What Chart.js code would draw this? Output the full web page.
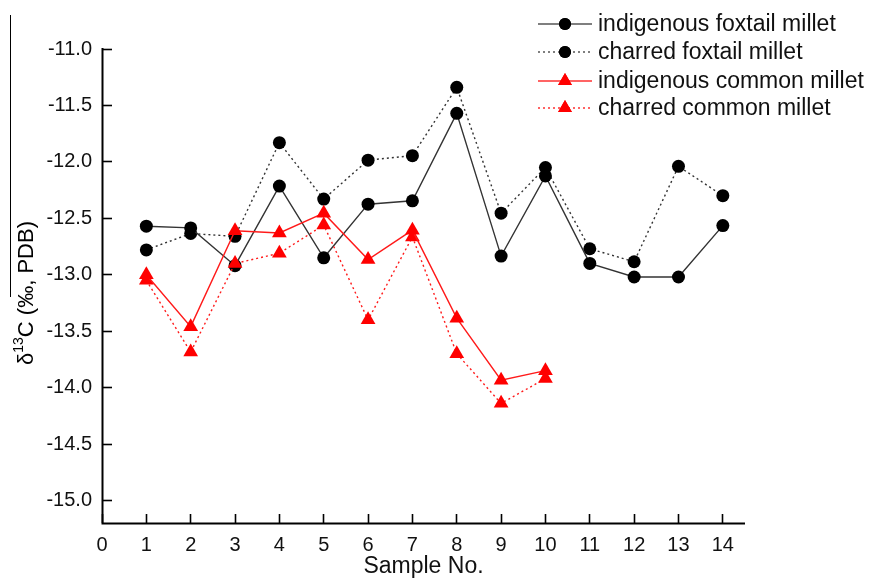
<!DOCTYPE html>
<html>
<head>
<meta charset="utf-8">
<script src="https://cdn.jsdelivr.net/npm/chart.js@4.4.1/dist/chart.umd.min.js"></script>
<style>
  html, body { margin: 0; padding: 0; background: #fff; }
  #chart { display: block; }
</style>
</head>
<body>
<canvas id="chart" width="876" height="581"></canvas>
<script>
// Sample numbers along the x axis
const samples = [1, 2, 3, 4, 5, 6, 7, 8, 9, 10, 11, 12, 13, 14];

// δ13C values (‰, PDB)
const indigenousFoxtail = [-12.57, -12.585, -12.92, -12.215, -12.85, -12.375, -12.345, -11.57, -12.835, -12.125, -12.90, -13.02, -13.02, -12.565];
const charredFoxtail = [-12.78, -12.635, -12.66, -11.83, -12.33, -11.985, -11.945, -11.34, -12.455, -12.05, -12.77, -12.885, -12.04, -12.30];
const indigenousCommon = [-13.0, -13.46, -12.61, -12.63, -12.455, -12.865, -12.605, -13.385, -13.935, -13.85];
const charredCommon = [-13.05, -13.685, -12.90, -12.81, -12.56, -13.40, -12.665, -13.70, -14.14, -13.92];

// Tick labels
const xTickValues = [0, 1, 2, 3, 4, 5, 6, 7, 8, 9, 10, 11, 12, 13, 14];
const yTickValues = [-15.0, -14.5, -14.0, -13.5, -13.0, -12.5, -12.0, -11.5, -11.0];

const seriesNames = ['indigenous foxtail millet', 'charred foxtail millet', 'indigenous common millet', 'charred common millet'];

const FONT = 'Liberation Sans, Arial, sans-serif';

// pair each value with its sample number
function toPoints(values) {
    return values.map((v, i) => ({ x: samples[i], y: v }));
}

const seriesStyles = [
    { line: '#333', point: '#000', shape: 'circle', radius: 6.5, dash: [] },
    { line: '#333', point: '#000', shape: 'circle', radius: 6.5, dash: [2, 3] },
    { line: '#ff1a1a', point: '#ff0000', shape: 'triangle', radius: 8.5, dash: [] },
    { line: '#ff1a1a', point: '#ff0000', shape: 'triangle', radius: 8.5, dash: [2, 3] }
];

const seriesValues = [indigenousFoxtail, charredFoxtail, indigenousCommon, charredCommon];

const datasets = seriesValues.map((vals, i) => ({
    label: seriesNames[i],
    data: toPoints(vals),
    borderColor: seriesStyles[i].line,
    borderWidth: 1.4,
    borderDash: seriesStyles[i].dash,
    pointStyle: seriesStyles[i].shape,
    pointRadius: seriesStyles[i].radius,
    pointBackgroundColor: seriesStyles[i].point,
    pointBorderColor: seriesStyles[i].point,
    pointBorderWidth: 0,
    tension: 0,
    order: i < 2 ? 2 : 1   // red series drawn on top
}));

// Draws the axis lines, the rotated y title (with superscript) and the legend
const decorPlugin = {
    id: 'decor',
    afterDraw(chart) {
        const ctx = chart.ctx;
        const yScale = chart.scales.y;
        const xScale = chart.scales.x;
        ctx.save();

        // axis lines
        const ax = Math.round(yScale.right) + 0.5;
        const ay = Math.round(xScale.top) + 0.5;
        ctx.strokeStyle = '#000';
        ctx.lineWidth = 2;
        ctx.beginPath();
        ctx.moveTo(ax, yScale.top - 1);
        ctx.lineTo(ax, ay);
        ctx.lineTo(xScale.right, ay);
        ctx.stroke();

        // --- y axis title ---
        const big = '22px ' + FONT;
        const small = '14px ' + FONT;
        const parts = [
            { t: 'δ', f: big, dy: 0 },
            { t: '13', f: small, dy: -8 },
            { t: 'C (‰, PDB)', f: big, dy: 0 }
        ];
        let total = 0;
        parts.forEach(p => { ctx.font = p.f; p.w = ctx.measureText(p.t).width; total += p.w; });
        ctx.translate(27, 293);
        ctx.rotate(-Math.PI / 2);
        ctx.fillStyle = '#000';
        ctx.textBaseline = 'middle';
        ctx.textAlign = 'left';
        let px = -total / 2;
        parts.forEach(p => {
            ctx.font = p.f;
            ctx.fillText(p.t, px, p.dy);
            px += p.w;
        });
        ctx.setTransform(1, 0, 0, 1, 0, 0);

        // stray overline next to the title, as in the source figure
        ctx.strokeStyle = '#000';
        ctx.lineWidth = 1;
        ctx.beginPath();
        ctx.moveTo(10.5, 15);
        ctx.lineTo(10.5, 297);
        ctx.stroke();

        // --- legend ---
        const lx0 = 538, lx1 = 592, mx = 565, tx = 598;
        const rowY = [24, 52, 81, 108];
        ctx.font = '23px ' + FONT;
        ctx.textBaseline = 'middle';
        seriesNames.forEach((name, i) => {
            const st = seriesStyles[i];
            const y = rowY[i];
            ctx.strokeStyle = i < 2 ? '#555' : '#ff3030';
            ctx.lineWidth = 1.4;
            ctx.setLineDash(st.dash);
            ctx.beginPath();
            ctx.moveTo(lx0, y);
            ctx.lineTo(lx1, y);
            ctx.stroke();
            ctx.setLineDash([]);
            ctx.fillStyle = st.point;
            Chart.helpers.drawPoint(ctx, { pointStyle: st.shape, radius: st.radius - 0.5, borderWidth: 0 }, mx, y);
            ctx.fill();
            ctx.fillStyle = '#111';
            ctx.fillText(name, tx, y + 1);
        });
        ctx.restore();
    }
};

const chart = new Chart(document.getElementById('chart'), {
    type: 'line',
    data: { datasets: datasets },
    options: {
        responsive: false,
        animation: false,
        layout: { padding: { left: 0, top: 49, right: 131, bottom: 0 } },
        plugins: {
            legend: { display: false },
            tooltip: { enabled: false }
        },
        scales: {
            x: {
                type: 'linear',
                min: 0,
                max: 14.5,
                afterBuildTicks: scale => { scale.ticks = xTickValues.map(v => ({ value: v })); },
                afterFit: scale => { scale.height = 58; },
                border: { display: false },
                grid: { drawOnChartArea: false, tickLength: -9, tickWidth: 1.6, tickColor: '#000' },
                ticks: { color: '#111', font: { family: FONT, size: 20 }, padding: 19, maxRotation: 0 },
                title: { display: true, text: 'Sample No.', color: '#111', font: { family: FONT, size: 23 }, padding: { top: 0, bottom: 1 } }
            },
            y: {
                type: 'linear',
                min: -15.2,
                max: -11.0,
                afterBuildTicks: scale => { scale.ticks = yTickValues.map(v => ({ value: v })); },
                afterFit: scale => { scale.width = 102; },
                border: { display: false },
                grid: { drawOnChartArea: false, tickLength: -10, tickWidth: 1.6, tickColor: '#000' },
                ticks: {
                    color: '#111',
                    font: { family: FONT, size: 20 },
                    padding: 20,
                    callback: v => v.toFixed(1)
                }
            }
        }
    },
    plugins: [decorPlugin]
});
</script>
</body>
</html>
